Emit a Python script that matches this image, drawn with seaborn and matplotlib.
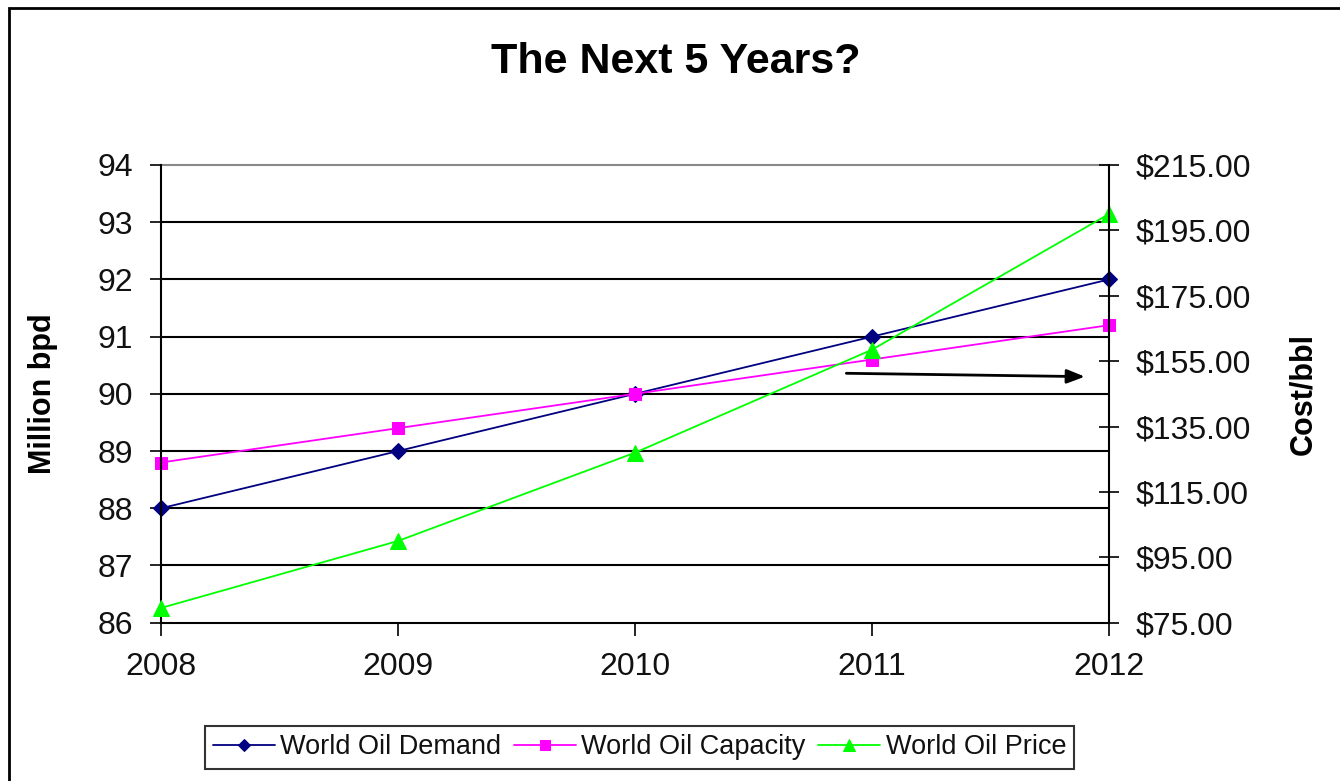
import matplotlib
matplotlib.use("Agg")
import matplotlib.pyplot as plt
import matplotlib.patches as mpatches
import seaborn as sns
import numpy as np

years = [2008, 2009, 2010, 2011, 2012]
demand = [88.0, 89.0, 90.0, 91.0, 92.0]
capacity = [88.8, 89.4, 90.0, 90.6, 91.2]
price = [79.5, 100.0, 127.0, 158.5, 200.0]

left_ticks = [86, 87, 88, 89, 90, 91, 92, 93, 94]
right_ticks = [75, 95, 115, 135, 155, 175, 195, 215]

title = "The Next 5 Years?"
left_label = "Million bpd"
right_label = "Cost/bbl"
series_names = ["World Oil Demand", "World Oil Capacity", "World Oil Price"]

sns.set_theme(style="white")
plt.rcParams["font.family"] = ["Liberation Sans", "DejaVu Sans"]
plt.rcParams["text.color"] = "black"
plt.rcParams["axes.labelcolor"] = "black"

fig = plt.figure(figsize=(13.4, 7.81), dpi=100)
fig.patch.set_facecolor("white")
ax = fig.add_axes([161/1340, 1-622.7/781, (1109-161)/1340, (622.7-165)/781])
ax2 = ax.twinx()

navy = "#000080"
magenta = "#FF00FF"
lime = "#00FF00"

sns.lineplot(x=years, y=demand, ax=ax, color=navy, marker="D", markersize=8.5,
             markeredgecolor=navy, linewidth=1.3, label=series_names[0], legend=False)
sns.lineplot(x=years, y=capacity, ax=ax, color=magenta, marker="s", markersize=9,
             markeredgecolor=magenta, linewidth=1.3, label=series_names[1], legend=False)
sns.lineplot(x=years, y=price, ax=ax2, color=lime, marker="^", markersize=11,
             markeredgecolor=lime, linewidth=1.3, label=series_names[2], legend=False)
for ln in ax.lines + ax2.lines:
    ln.set_clip_on(False)

ax.set_xlim(2008, 2012)
ax.set_ylim(86, 94)
ax2.set_ylim(75, 215)
ax.set_xticks(years)
ax.set_xticklabels([str(y) for y in years])
ax.set_yticks(left_ticks)
ax.set_yticklabels([str(t) for t in left_ticks])
ax2.set_yticks(right_ticks)
ax2.set_yticklabels([f"${t:.2f}" for t in right_ticks])

# gridlines
for t in left_ticks[1:-1]:
    ax.axhline(t, color="black", linewidth=1.5, zorder=0.5)
ax.axhline(94, color="#888888", linewidth=1.5, zorder=0.5, clip_on=False)

for a in (ax, ax2):
    for s in a.spines.values():
        s.set_visible(False)
ax.spines["left"].set_visible(True)
ax.spines["bottom"].set_visible(True)
ax2.spines["right"].set_visible(True)
for s in (ax.spines["left"], ax.spines["bottom"], ax2.spines["right"]):
    s.set_color("black")
    s.set_linewidth(1.5)

ax.tick_params(axis="y", direction="out", length=8, width=1.2, color="black",
               labelsize=23, pad=12, left=True, labelcolor="#111111")
ax.tick_params(axis="x", direction="out", length=9, width=1.2, color="black",
               labelsize=23, pad=12, bottom=True, labelcolor="#111111")
ax2.tick_params(axis="y", direction="inout", length=14, width=1.2, color="black",
                labelsize=23, pad=12, right=True, labelcolor="#111111")

ax.set_ylabel(left_label, fontsize=22, fontweight="bold", color="black")
ax.yaxis.set_label_coords(-0.109, 0.5)
ax2.set_ylabel(right_label, fontsize=22, fontweight="bold", rotation=90, color="black")
ax2.yaxis.set_label_coords(1.189, 0.5)

fig.text(676/1340, 1-62/781, title, fontsize=31, fontweight="bold",
         ha="center", va="center", color="black")

# arrow annotation
ax.annotate("", xy=(2011.91, 90.3), xytext=(2010.88, 90.36),
            arrowprops=dict(arrowstyle="-|>,head_length=0.9,head_width=0.35",
                            color="black", linewidth=2), zorder=5)

# legend
h1, l1 = ax.get_legend_handles_labels()
h2, l2 = ax2.get_legend_handles_labels()
leg = ax.legend(h1 + h2, l1 + l2, loc="center", bbox_to_anchor=(639.5/1340, 1-747.5/781),
                bbox_transform=fig.transFigure, ncol=3, fontsize=19.5, frameon=True,
                fancybox=False, edgecolor="black", handlelength=2.3, handletextpad=0.2,
                columnspacing=0.45, borderpad=0.3, markerscale=0.75)
leg.get_frame().set_linewidth(1.5)
for t in leg.get_texts():
    t.set_color("#111111")

# figure border
fig.patches.append(mpatches.Rectangle((9/1340, -0.02), 1.05, 1-8/781+0.02,
                                      transform=fig.transFigure, fill=False,
                                      edgecolor="black", linewidth=2))

fig.savefig("out.png", dpi=100, facecolor="white")
